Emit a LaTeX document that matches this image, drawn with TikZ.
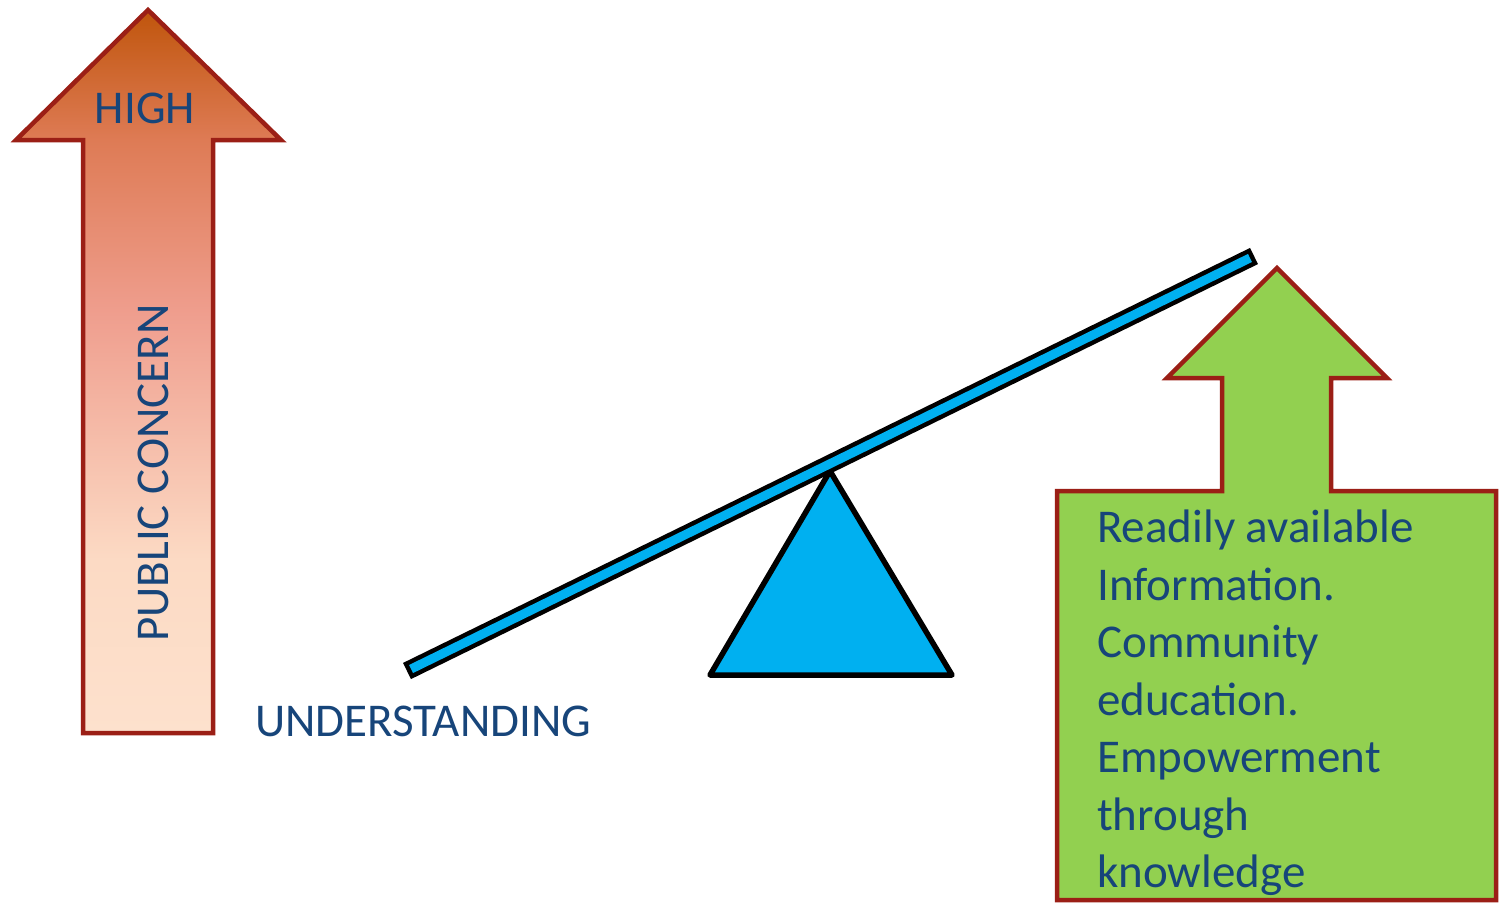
\documentclass[tikz,border=0pt]{standalone}
\usepackage{fontspec}
\setmainfont{Carlito}
\usepackage{tikz}
\usetikzlibrary{positioning}

\definecolor{textblue}{HTML}{17457A}
\definecolor{edgered}{HTML}{9B1F16}
\definecolor{leafgreen}{HTML}{92D050}
\definecolor{skyblue}{HTML}{00B0F0}
\definecolor{peach}{HTML}{FDE1CD}
\definecolor{peachdark}{HTML}{FCDAC4}
\definecolor{salmon}{HTML}{EF9E8E}
\definecolor{coral}{HTML}{DE7B55}
\definecolor{rust}{HTML}{C0550C}

% orange at the tip fading to peach at the foot
\pgfdeclareverticalshading{concern}{100bp}{%
  color(0bp)=(peach);
  color(25bp)=(peach);
  color(37bp)=(peachdark);
  color(54bp)=(salmon);
  color(66bp)=(coral);
  color(75bp)=(rust);
  color(100bp)=(rust)}

\begin{document}
\begin{tikzpicture}[
    x=1pt, y=-1pt,
    font=\fontsize{47}{57.5}\selectfont,
    bigarrow/.style={
        draw=edgered,
        line width=4.5pt,
        line join=miter
    },
    pivot/.style={
        draw=black,
        fill=skyblue,
        line width=5.5pt,
        line join=round
    },
    caption/.style={
        text=textblue,
        inner sep=0pt
    }
  ]

\useasboundingbox (0,0) rectangle (1504,903);

% // concern arrow
\draw [bigarrow, shading=concern]
  (148,10) -- (281,140) -- (213,140) -- (213,733) -- (83,733)
  -- (83,140) -- (16,140) -- cycle;
\node [caption] (high) at (145,108) {HIGH};
\node [caption, rotate=90] (concern) at (153,473) {PUBLIC CONCERN};

% // the knowledge arrow
\draw [bigarrow, fill=leafgreen]
  (1277,268) -- (1387,378) -- (1331,378) -- (1331,491) -- (1496,491)
  -- (1496,900) -- (1057,900) -- (1057,491) -- (1222,491)
  -- (1222,378) -- (1167,378) -- cycle;
\node [caption, anchor=north west, align=left] (info) at (1097,510)
 {%
  Readily available\\
  Information.\\
  Community\\
  education.\\
  Empowerment\\
  through\\
  knowledge
 };

% // the seesaw
\draw [pivot] (830,471) -- (952,675) -- (710,675) -- cycle;
\coordinate (lowend) at (407,671);
\coordinate (highend) at (1254,256);
\draw [line width=18pt, black] (lowend) -- (highend);
\draw [line width=9pt, skyblue, shorten <=4.5pt, shorten >=4.5pt] (lowend) -- (highend);

\node [caption, anchor=base west] (understanding) at (255,736) {UNDERSTANDING};

\end{tikzpicture}
\end{document}
